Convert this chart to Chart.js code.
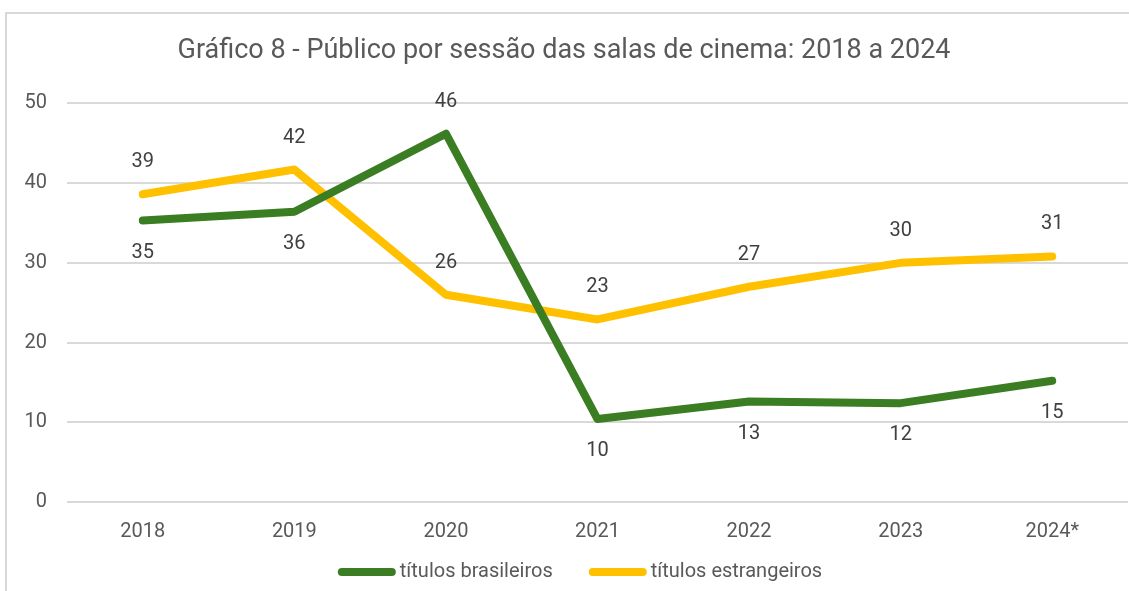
<!DOCTYPE html>
<html>
<head>
<meta charset="utf-8">
<script src="https://cdn.jsdelivr.net/npm/chart.js@4"></script>
<style>
  html, body { margin: 0; padding: 0; background: #fff; }
  #wrap { position: relative; width: 1129px; height: 591px; overflow: hidden; }
  #frame { position: absolute; left: 5px; top: 12px; width: 1200px; height: 700px; border: 2px solid #d9d9d9; box-sizing: border-box; }
  canvas { position: absolute; left: 0; top: 0; }
</style>
</head>
<body>
<div id="wrap">
  <div id="frame"></div>
  <canvas id="chart" width="1129" height="591"></canvas>
</div>
<script>
// Categories (x axis)
const years = ['2018', '2019', '2020', '2021', '2022', '2023', '2024*'];

// Público por sessão - títulos brasileiros
const brasileiros = [35.3, 36.4, 46.2, 10.4, 12.6, 12.4, 15.2];

// Público por sessão - títulos estrangeiros
const estrangeiros = [38.6, 41.7, 26.0, 22.9, 27.0, 30.0, 30.8];

// Label shown above (-1) or below (+1) each point
const brasileirosLabelSide = [1, 1, -1, 1, 1, 1, 1];
const estrangeirosLabelSide = [-1, -1, -1, -1, -1, -1, -1];

const fontFamily = 'Roboto, "Liberation Sans", sans-serif';

// Draws the value labels next to each point
const labelsPlugin = {
    id: 'valueLabels',
    afterDatasetsDraw(chart) {
        const ctx = chart.ctx;
        ctx.save();
        ctx.font = '20px ' + fontFamily;
        ctx.fillStyle = '#404040';
        ctx.textAlign = 'center';
        ctx.textBaseline = 'middle';
        const sides = [brasileirosLabelSide, estrangeirosLabelSide];
        chart.data.datasets.forEach((ds, i) => {
            const meta = chart.getDatasetMeta(i);
            meta.data.forEach((pt, j) => {
                const v = Math.round(ds.data[j]);
                ctx.fillText(String(v), pt.x, pt.y + sides[i][j] * 32);
            });
        });
        ctx.restore();
    }
};

// Legend drawn like Excel's: line sample followed right away by the text
const legendPlugin = {
    id: 'excelLegend',
    afterDraw(chart) {
        const ctx = chart.ctx;
        ctx.save();
        ctx.font = '20px ' + fontFamily;
        ctx.textBaseline = 'middle';
        const lineW = 58, gap = 4, itemGap = 36, y = 572;
        const items = chart.data.datasets.map(ds => ({
            color: ds.borderColor, text: ds.label, w: ctx.measureText(ds.label).width
        }));
        let total = items.reduce((s, it) => s + lineW + gap + it.w, 0) + itemGap * (items.length - 1);
        let x = 580 - total / 2;
        items.forEach(it => {
            ctx.strokeStyle = it.color;
            ctx.lineWidth = 8;
            ctx.lineCap = 'round';
            ctx.beginPath();
            ctx.moveTo(x + 4, y);
            ctx.lineTo(x + lineW - 4, y);
            ctx.stroke();
            ctx.fillStyle = '#595959';
            ctx.fillText(it.text, x + lineW + gap, y);
            x += lineW + gap + it.w + itemGap;
        });
        ctx.restore();
    }
};

const ctx = document.getElementById('chart').getContext('2d');
new Chart(ctx, {
    type: 'line',
    data: {
        labels: years,
        datasets: [{
            label: 'títulos brasileiros',
            data: brasileiros,
            borderColor: '#3a7d22',
            backgroundColor: '#3a7d22',
            borderWidth: 8,
            pointRadius: 0,
            borderCapStyle: 'round',
            borderJoinStyle: 'round',
            tension: 0,
        }, {
            label: 'títulos estrangeiros',
            data: estrangeiros,
            borderColor: '#ffc000',
            backgroundColor: '#ffc000',
            borderWidth: 8,
            pointRadius: 0,
            borderCapStyle: 'round',
            borderJoinStyle: 'round',
            tension: 0,
        }],
    },
    options: {
        responsive: false,
        animation: false,
        layout: { padding: { top: 35, right: 1, left: 0, bottom: 37 } },
        plugins: {
            title: {
                display: true,
                text: 'Gráfico 8 - Público por sessão das salas de cinema: 2018 a 2024',
                color: '#595959',
                font: { family: fontFamily, size: 27, weight: 'normal' },
                padding: { top: 0, bottom: 36 },
            },
            legend: { display: false },
            tooltip: { enabled: false },
        },
        scales: {
            x: {
                offset: true,
                grid: { display: false },
                border: { display: false },
                ticks: { color: '#595959', font: { family: fontFamily, size: 20 }, padding: 10 },
            },
            y: {
                min: 0,
                max: 50,
                afterFit(scale) { scale.width = 67; },
                grid: { color: '#d9d9d9', lineWidth: 2, drawTicks: false },
                border: { display: false },
                ticks: { stepSize: 10, color: '#595959', font: { family: fontFamily, size: 20 }, padding: 20 },
            },
        },
    },
    plugins: [labelsPlugin, legendPlugin],
});
</script>
</body>
</html>
